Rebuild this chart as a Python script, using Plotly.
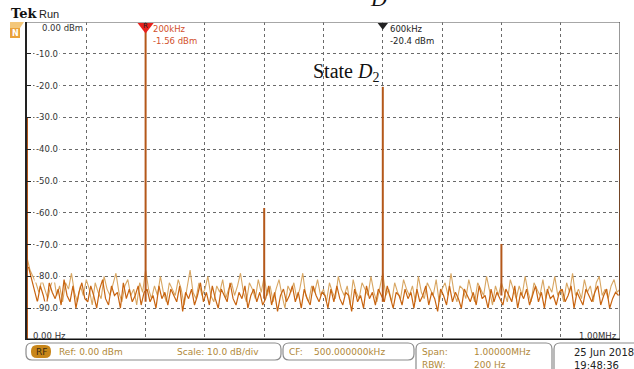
import plotly.graph_objects as go

W, H = 634, 369

# ---------------- data ----------------
noise_tan = [
    -74, -78, -80, -82, -85, -81, -84, -87, -83, -80,
    -86, -83, -88, -82, -84, -79, -85, -88, -83, -86,
    -81, -84, -89, -82, -85, -87, -80, -84, -86, -82,
    -79, -85, -88, -83, -81, -86, -84, -89, -82, -85,
    -78, -84, -87, -83, -86, -80, -85, -88, -82, -84,
    -86, -81, -84, -89, -83, -78, -85, -87, -82, -86,
    -84, -80, -86, -88, -83, -85, -81, -87, -84, -82,
    -86, -83, -79, -85, -88, -82, -84, -87, -81, -85,
    -80, -86, -83, -88, -84, -81, -86, -90, -83, -85,
    -82, -87, -84, -79, -86, -88, -83, -85, -81, -86,
    -84, -88, -82, -85, -87, -80, -84, -86, -83, -89,
    -81, -85, -87, -82, -84, -86, -80, -85, -88, -83,
    -79, -86, -84, -88, -82, -85, -87, -81, -84, -86,
    -83, -88, -80, -85, -87, -82, -84, -86, -81, -88,
    -84, -82, -86, -79, -85, -88, -83, -84, -87, -81,
    -85, -88, -82, -84, -86, -80, -85, -89, -83, -86,
    -82, -85, -88, -81, -84, -87, -83, -86, -80, -85,
    -88, -82, -84, -86, -81, -87, -83, -85, -80, -86,
    -84, -88, -82, -85, -79, -86, -84, -87, -81, -85,
    -83, -88, -82, -80, -86, -84, -87, -83, -81, -85,
    -84,
]
noise_dark = [
    -77, -81, -84, -88, -83, -86, -90, -82, -85, -87,
    -84, -89, -81, -86, -88, -83, -90, -85, -82, -87,
    -88, -83, -86, -90, -84, -81, -87, -89, -83, -86,
    -85, -90, -82, -87, -84, -88, -86, -83, -89, -85,
    -84, -88, -86, -90, -83, -87, -85, -89, -84, -86,
    -88, -83, -91, -85, -87, -84, -89, -86, -82, -88,
    -85, -89, -83, -87, -90, -84, -86, -88, -82, -87,
    -89, -85, -87, -83, -90, -86, -84, -88, -85, -89,
    -87, -83, -89, -85, -91, -86, -84, -88, -86, -83,
    -88, -85, -90, -84, -87, -89, -83, -86, -88, -85,
    -86, -90, -84, -88, -83, -87, -89, -85, -86, -91,
    -84, -88, -86, -90, -83, -87, -85, -89, -84, -86,
    -88, -83, -87, -90, -85, -86, -89, -84, -87, -85,
    -90, -84, -88, -86, -83, -89, -85, -87, -91, -84,
    -86, -89, -83, -88, -85, -87, -90, -84, -86, -88,
    -85, -89, -83, -87, -86, -90, -84, -88, -85, -87,
    -89, -84, -86, -88, -83, -90, -85, -87, -84, -89,
    -86, -83, -88, -85, -90, -84, -87, -86, -89, -85,
    -84, -88, -86, -83, -90, -85, -87, -89, -84, -86,
    -88, -85, -83, -89, -86, -84, -90, -87, -85, -86,
]
noise_step_khz = 5
noise_tan_khz = [i * noise_step_khz for i in range(len(noise_tan))]
noise_dark_khz = [noise_step_khz / 2 + i * noise_step_khz for i in range(len(noise_dark))]

peak_khz = [0, 200, 400, 600, 800, 1000]
peak_dbm = [-30.0, -1.56, -58.5, -20.4, -69.8, -30.0]
peak_base_dbm = [-100, -88, -87, -88, -86, -86]

marker_khz = [200, 600]
marker_freq_label = ["200kHz", "600kHz"]
marker_dbm_label = ["-1.56 dBm", "-20.4 dBm"]

y_tick_vals = [-10, -20, -30, -40, -50, -60, -70, -80, -90]
y_tick_text = ["-10.0", "-20.0", "-30.0", "-40.0", "-50.0", "-60.0", "-70.0", "-80.0", "-90.0"]
x_grid_khz = [100, 200, 300, 400, 500, 600, 700, 800, 900]

# ---------------- helpers ----------------
def px(x):
    return x / W

def py(y):
    return 1 - y / H

TRACE_DARK = "#b4581a"
TAN = "#d8a662"
ORANGE = "#c86410"
TXT_TAN = "#b08838"

fig = go.Figure()

# noise traces
fig.add_trace(go.Scatter(x=noise_tan_khz, y=noise_tan, mode="lines",
                         line=dict(color=TAN, width=1.1), hoverinfo="skip"))
fig.add_trace(go.Scatter(x=noise_dark_khz, y=noise_dark, mode="lines",
                         line=dict(color=ORANGE, width=1.2), hoverinfo="skip"))

# peak spikes
px_list, py_list = [], []
for k, p, b in zip(peak_khz, peak_dbm, peak_base_dbm):
    px_list += [k, k, None]
    py_list += [b, p, None]
fig.add_trace(go.Scatter(x=px_list, y=py_list, mode="lines",
                         line=dict(color=TRACE_DARK, width=2), hoverinfo="skip",
                         cliponaxis=False))

# marker triangles
fig.add_trace(go.Scatter(x=[marker_khz[0]], y=[-1.4], mode="markers",
                         marker=dict(symbol="triangle-down", size=14, color="#e8201c",
                                     line=dict(width=0)),
                         cliponaxis=False, hoverinfo="skip"))
fig.add_trace(go.Scatter(x=[marker_khz[1]], y=[-1.0], mode="markers",
                         marker=dict(symbol="triangle-down", size=9, color="#222222",
                                     line=dict(width=0)),
                         cliponaxis=False, hoverinfo="skip"))

shapes = []
annotations = []

# frame lines
shapes.append(dict(type="line", xref="x", yref="y", x0=0, x1=1000, y0=0, y1=0,
                   line=dict(color="#8a8a8a", width=1.5)))
shapes.append(dict(type="line", xref="x", yref="y", x0=0, x1=1000, y0=-100, y1=-100,
                   line=dict(color="#111111", width=3)))
shapes.append(dict(type="line", xref="x", yref="y", x0=1000, x1=1000, y0=0, y1=-100,
                   line=dict(color="#333333", width=1)))

# y labels
annotations.append(dict(x=px(40), y=py(28), xref="paper", yref="paper", text="0.00 dBm",
                        showarrow=False, xanchor="left", yanchor="middle",
                        font=dict(family="DejaVu Sans", size=8.5, color="#333")))
for v, t in zip(y_tick_vals, y_tick_text):
    annotations.append(dict(x=px(60), y=v, xref="paper", yref="y", text=t,
                            showarrow=False, xanchor="right", yanchor="middle",
                            bgcolor="white", borderpad=1,
                            font=dict(family="DejaVu Sans", size=8.5, color="#333")))
annotations.append(dict(x=px(31), y=py(336), xref="paper", yref="paper", text="0.00 Hz",
                        showarrow=False, xanchor="left", yanchor="middle",
                        font=dict(family="DejaVu Sans", size=8.5, color="#333")))
annotations.append(dict(x=px(619), y=py(336), xref="paper", yref="paper", text="1.00MHz",
                        showarrow=False, xanchor="right", yanchor="middle",
                        font=dict(family="DejaVu Sans", size=8.5, color="#333")))

# marker labels
annotations.append(dict(x=marker_khz[0], y=py(26), xref="x", yref="paper", text="R",
                        showarrow=False, xanchor="center", yanchor="middle",
                        font=dict(family="DejaVu Sans", size=7, color="#222")))
mcolors = ["#d2502c", "#222222"]
for k, f, d, c in zip(marker_khz, marker_freq_label, marker_dbm_label, mcolors):
    annotations.append(dict(x=k, y=py(29), xref="x", yref="paper", text=f,
                            showarrow=False, xanchor="left", yanchor="middle", xshift=5,
                            font=dict(family="DejaVu Sans", size=8.5, color=c)))
    annotations.append(dict(x=k, y=py(41), xref="x", yref="paper", text=d,
                            showarrow=False, xanchor="left", yanchor="middle", xshift=5,
                            font=dict(family="DejaVu Sans", size=8.5, color=c)))

# State D2
annotations.append(dict(x=px(346), y=py(73), xref="paper", yref="paper",
                        text="State <i>D</i><sub>2</sub>", showarrow=False,
                        xanchor="center", yanchor="middle",
                        font=dict(family="Liberation Serif", size=20, color="#111")))
# partial caption letter cut at top
annotations.append(dict(x=px(378), y=py(13), xref="paper", yref="paper",
                        text="<i>D</i>", showarrow=False, xanchor="center", yanchor="bottom",
                        font=dict(family="Liberation Serif", size=22, color="#111")))

# Tek Run
annotations.append(dict(x=px(9), y=py(14), xref="paper", yref="paper", text="<b>Tek</b>",
                        showarrow=False, xanchor="left", yanchor="middle",
                        font=dict(family="DejaVu Serif", size=13, color="#111")))
annotations.append(dict(x=px(37), y=py(14), xref="paper", yref="paper", text="Run",
                        showarrow=False, xanchor="left", yanchor="middle",
                        font=dict(family="Liberation Sans", size=11, color="#222")))
# small orange icon
shapes.append(dict(type="rect", xref="paper", yref="paper", x0=px(10), x1=px(20),
                   y0=py(38), y1=py(28), fillcolor="#eaa23a", line=dict(width=0)))
shapes.append(dict(type="path", xref="paper", yref="paper",
                   path=f"M {px(10)} {py(28)} L {px(10)} {py(22)} L {px(24)} {py(22)} L {px(20)} {py(28)} Z",
                   fillcolor="#f3c77a", line=dict(width=0)))
annotations.append(dict(x=px(15), y=py(33), xref="paper", yref="paper", text="<b>N</b>",
                        showarrow=False, xanchor="center", yanchor="middle",
                        font=dict(family="DejaVu Sans", size=8, color="white")))

# bottom info boxes
def rbox(x0, y0, x1, y1, r=6):
    return (f"M {px(x0 + r)} {py(y0)} L {px(x1 - r)} {py(y0)} "
            f"Q {px(x1)} {py(y0)} {px(x1)} {py(y0 + r)} L {px(x1)} {py(y1 - r)} "
            f"Q {px(x1)} {py(y1)} {px(x1 - r)} {py(y1)} L {px(x0 + r)} {py(y1)} "
            f"Q {px(x0)} {py(y1)} {px(x0)} {py(y1 - r)} L {px(x0)} {py(y0 + r)} "
            f"Q {px(x0)} {py(y0)} {px(x0 + r)} {py(y0)} Z")

for x0, x1, y1 in [(26, 281, 360), (283, 414, 360), (416, 552, 380), (554, 700, 380)]:
    shapes.append(dict(type="path", xref="paper", yref="paper", path=rbox(x0, 343, x1, y1),
                       line=dict(color="#8c8c8c", width=1.2)))

# RF badge
shapes.append(dict(type="path", xref="paper", yref="paper", path=rbox(31, 345, 51, 358, 6),
                   fillcolor="#c8861a", line=dict(width=0)))
annotations.append(dict(x=px(41), y=py(351.5), xref="paper", yref="paper", text="RF",
                        showarrow=False, xanchor="center", yanchor="middle",
                        font=dict(family="DejaVu Sans", size=9, color="#3a2a10")))

def info(x, y, text, color=TXT_TAN, size=9):
    annotations.append(dict(x=px(x), y=py(y), xref="paper", yref="paper", text=text,
                            showarrow=False, xanchor="left", yanchor="middle",
                            font=dict(family="DejaVu Sans", size=size, color=color)))

info(57, 351.5, "Ref: 0.00 dBm")
info(175, 351.5, "Scale: 10.0 dB/div")
info(287, 351.5, "CF:")
info(312, 351.5, "500.000000kHz")
info(420, 352, "Span:")
info(472, 352, "1.00000MHz")
info(420, 365, "RBW:")
info(472, 365, "200 Hz")
info(572, 352, "25 Jun 2018", color="#222", size=10)
info(572, 365, "19:48:36", color="#222", size=10)

fig.update_layout(
    width=W, height=H,
    margin=dict(l=0, r=0, t=0, b=0),
    paper_bgcolor="white", plot_bgcolor="white",
    showlegend=False,
    shapes=shapes,
    annotations=annotations,
    xaxis=dict(range=[0, 1000], domain=[px(27), px(620)], tickvals=x_grid_khz,
               showgrid=True, gridcolor="#6a6a6a", griddash="dot", gridwidth=1,
               showticklabels=False, ticks="", zeroline=False, showline=False,
               fixedrange=True),
    yaxis=dict(range=[-100, 0], domain=[py(340), py(22)], tickvals=y_tick_vals,
               showgrid=True, gridcolor="#6a6a6a", griddash="dot", gridwidth=1,
               showticklabels=False, ticks="inside", ticklen=4, tickcolor="#222",
               zeroline=False, showline=True, linecolor="#222", linewidth=1.5,
               fixedrange=True),
)

fig.write_html("out.html")
